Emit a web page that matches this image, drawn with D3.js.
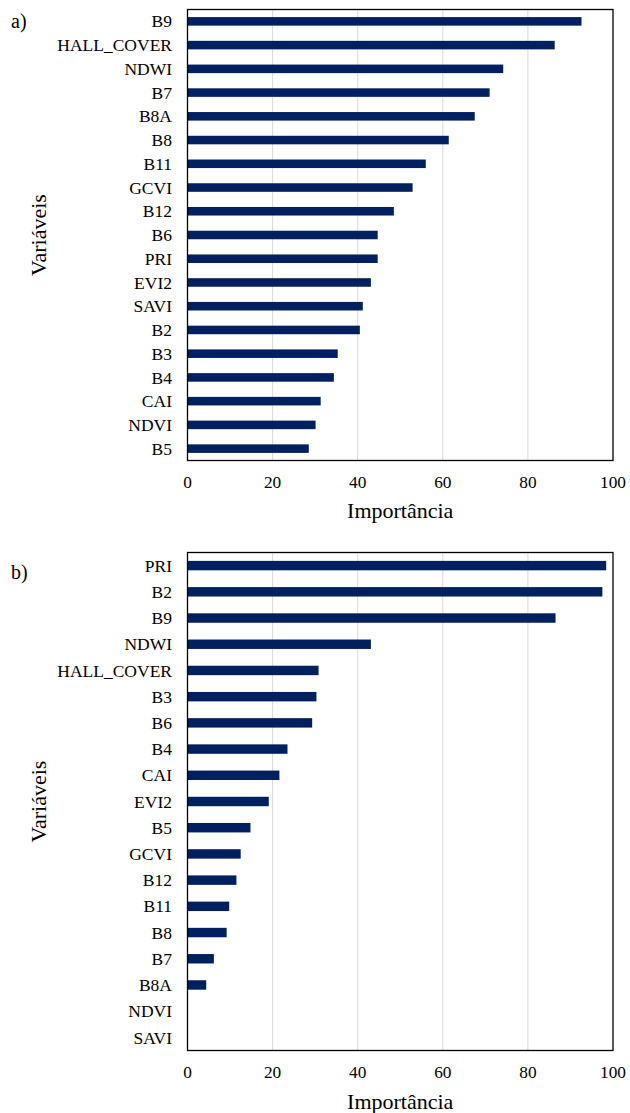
<!DOCTYPE html>
<html><head><meta charset="utf-8">
<script src="https://cdn.jsdelivr.net/npm/d3@7"></script>
<style>body{margin:0;background:#fff}svg{display:block}text{font-family:"Liberation Serif","Times New Roman",serif;fill:#000}</style>
</head><body><svg id="c" width="630" height="1113"></svg>
<script>
const catsA = ["B9","HALL_COVER","NDWI","B7","B8A","B8","B11","GCVI","B12","B6","PRI","EVI2","SAVI","B2","B3","B4","CAI","NDVI","B5"];
const valsA = [92.6,86.3,74.2,71.0,67.5,61.4,56.0,52.9,48.5,44.7,44.7,43.1,41.2,40.5,35.3,34.4,31.3,30.1,28.5];
const catsB = ["PRI","B2","B9","NDWI","HALL_COVER","B3","B6","B4","CAI","EVI2","B5","GCVI","B12","B11","B8","B7","B8A","NDVI","SAVI"];
const valsB = [98.4,97.5,86.5,43.1,30.8,30.3,29.3,23.5,21.6,19.1,14.8,12.5,11.5,9.8,9.2,6.2,4.4,0,0];
const xTicks = [0,20,40,60,80,100];
const xTitle = "Importância";
const yTitle = "Variáveis";

const svg = d3.select("#c");
function panel(cats, vals, top, bottom, tag, tagY, tickY, titleY, pad){
  const x = d3.scaleLinear().domain([0,100]).range([187.5,613]);
  const y = d3.scaleBand().domain(cats).range([top,bottom]).paddingInner(pad).paddingOuter(pad/2);
  const g = svg.append("g");
  g.selectAll("line.grid").data(xTicks.slice(1,-1)).enter().append("line")
    .attr("x1",d=>x(d)).attr("x2",d=>x(d)).attr("y1",top).attr("y2",bottom)
    .attr("stroke","#d9d9d9").attr("stroke-width",1);
  g.selectAll("rect").data(cats).enter().append("rect")
    .attr("x",x(0)).attr("y",d=>y(d)).attr("height",y.bandwidth())
    .attr("width",(d,i)=>x(vals[i])-x(0)).attr("fill","#002060");
  g.append("rect").attr("x",x(0)).attr("y",top).attr("width",x(100)-x(0)).attr("height",bottom-top)
    .attr("fill","none").attr("stroke","#000").attr("stroke-width",1.3);
  g.selectAll("text.cat").data(cats).enter().append("text")
    .attr("x",172).attr("y",d=>y(d)+y.bandwidth()/2).attr("dy","0.35em")
    .attr("text-anchor","end").attr("font-size",17.5).text(d=>d);
  g.selectAll("text.tick").data(xTicks).enter().append("text")
    .attr("x",d=>x(d)).attr("y",tickY).attr("text-anchor","middle")
    .attr("font-size",17.3).text(d=>d);
  g.append("text").attr("x",(x(0)+x(100))/2).attr("y",titleY)
    .attr("text-anchor","middle").attr("font-size",22).text(xTitle);
  g.append("text").attr("transform",`translate(38,${(top+bottom)/2}) rotate(-90)`)
    .attr("dy","0.35em").attr("text-anchor","middle").attr("font-size",22).text(yTitle);
  g.append("text").attr("x",11).attr("y",tagY).attr("dy","0.35em").attr("font-size",20).text(tag);
}
panel(catsA, valsA, 9.5, 460.5, "a)", 21, 488, 518, 0.64);
panel(catsB, valsB, 552.5, 1050.5, "b)", 572, 1078, 1109, 0.64);
</script></body></html>
